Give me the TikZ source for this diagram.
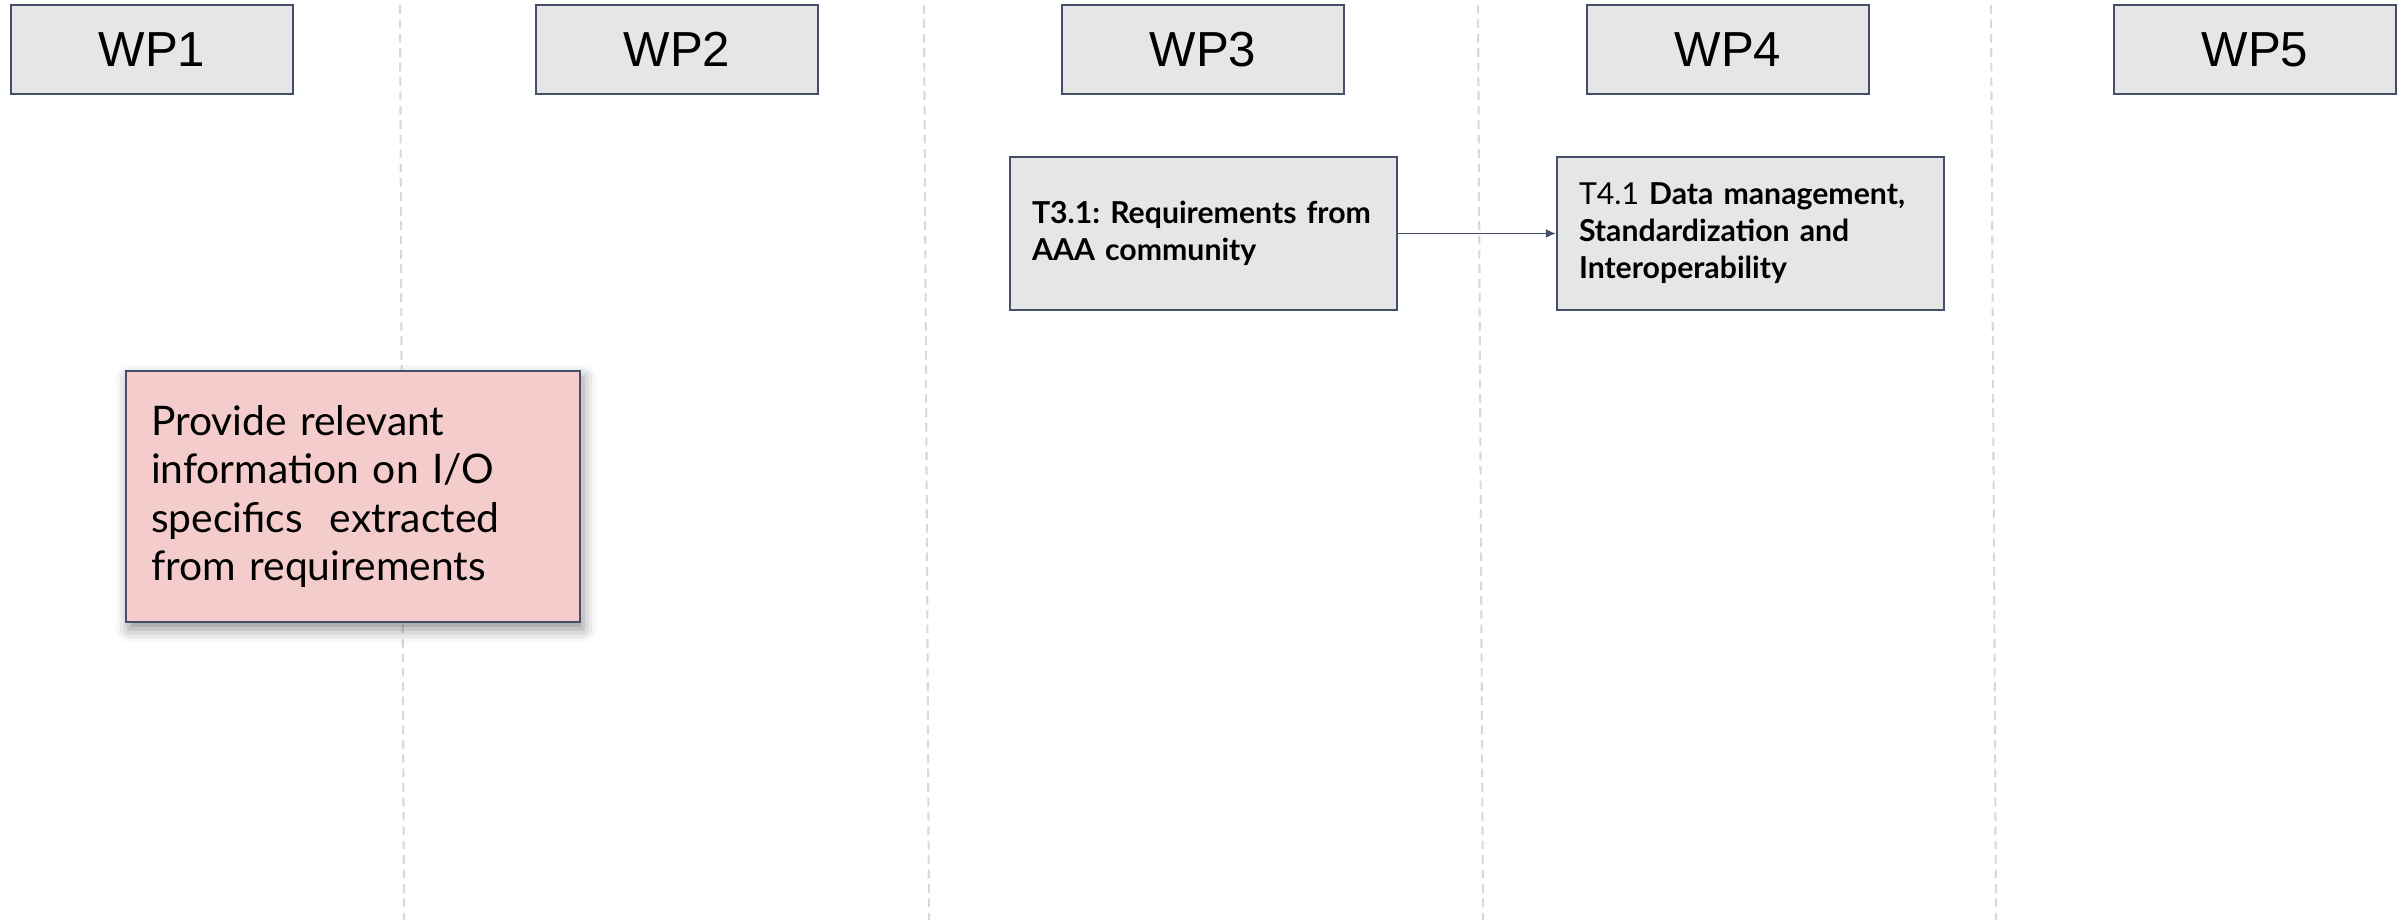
\documentclass[tikz,border=0pt]{standalone}
\usepackage{fontspec}
\setmainfont[WordSpace=0.85]{Lato}
\newfontfamily\wpfont{Liberation Sans}
\usetikzlibrary{arrows.meta,positioning,shadows.blur}
\definecolor{wpgray}{HTML}{E6E6E6}
\definecolor{edge}{HTML}{44506A}
\definecolor{note}{HTML}{F4CCCC}
\definecolor{sep}{HTML}{D9D9D9}
\tikzset{wpbox/.style={draw=edge,fill=wpgray,line width=0.6pt,minimum width=28.2mm,minimum height=8.9mm,inner sep=0pt,font=\wpfont\fontsize{14}{16}\selectfont},taskbox/.style={draw=edge,fill=wpgray,line width=0.6pt,align=left,text width=34.3mm,minimum height=15.3mm,inner xsep=2.2mm,font=\frenchspacing\fontsize{8.6}{10.5}\selectfont},notebox/.style={draw=edge,fill=note,line width=0.6pt,align=left,text width=40.4mm,minimum height=25.1mm,inner xsep=2.5mm,font=\frenchspacing\fontsize{11.6}{13.8}\selectfont,blur shadow={shadow xshift=0.3mm,shadow yshift=-0.7mm,shadow blur radius=1.3mm,shadow opacity=45}},arrow/.style={-{Latex[length=1mm,width=0.9mm]},draw=edge,line width=0.5pt},sepline/.style={draw=sep,line width=0.6pt,dash pattern=on 2.5pt off 1.6pt}}

\begin{document}
\begin{tikzpicture}[x=0.1mm,y=-0.1mm]
\useasboundingbox (0,0) rectangle (2407,920);
\draw[sepline](400,5)--(404,920);\draw[sepline](924,5)--(929,920);
\draw[sepline](1478,5)--(1483,920);\draw[sepline](1991,5)--(1996,920);
\node[wpbox] (wp1) at (152,49.5) {WP1};
\node[wpbox] (wp2) at (677,49.5) {WP2};
\node[wpbox] (wp3) at (1203,49.5) {WP3};
\node[wpbox] (wp4) at (1728,49.5) {WP4};
\node[wpbox] (wp5) at (2255,49.5) {WP5};
\node[taskbox] (req) at (1203.5,233.5) {\textbf{T3.1: Requirements from}\\\textbf{AAA community}};
\node[taskbox] (data) at (1750.5,233.5) {T4.1 \textbf{Data management,}\\\textbf{Standardization and}\\\textbf{Interoperability}};
\node[notebox] (info) at (353,496.5) {Provide relevant\\information on I/O\\specifics\ \ extracted\\from requirements};
\draw[arrow](req)--(data);
\end{tikzpicture}
\end{document}
